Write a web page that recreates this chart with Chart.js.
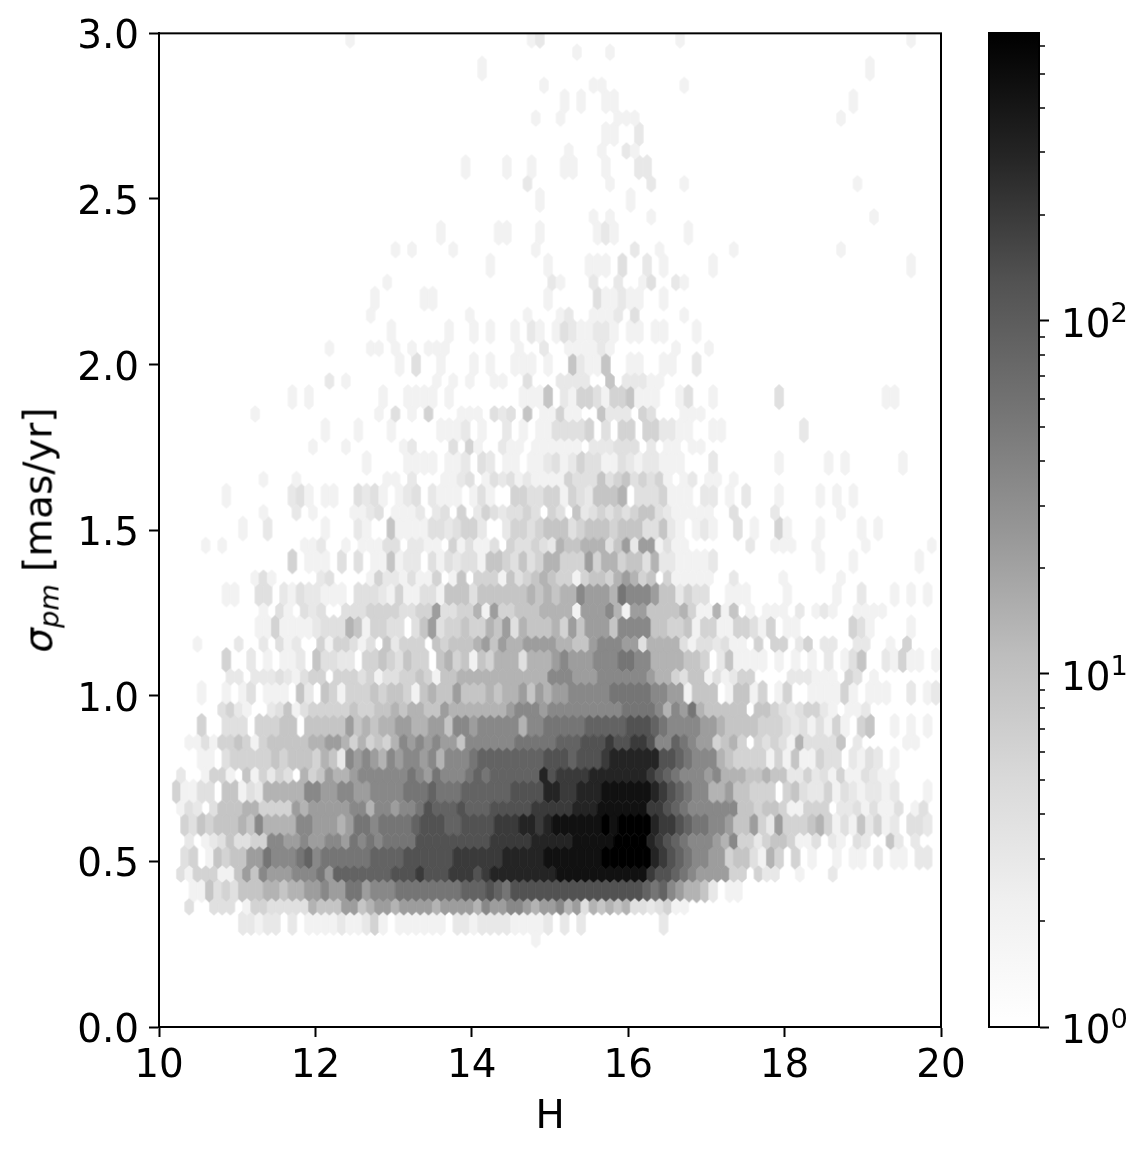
<!DOCTYPE html>
<html>
<head>
<meta charset="utf-8">
<title>H vs sigma_pm</title>
<style>
  html, body { margin: 0; padding: 0; background: #fff; }
  #wrap { position: relative; width: 1145px; height: 1155px; overflow: hidden; }
  canvas { position: absolute; top: 0; }
  #mainChart { left: 0; }
  #colorbar { left: 960px; }
  #yLabel {
    position: absolute; left: 38px; top: 530px; white-space: nowrap;
    font: 38.9px "DejaVu Sans"; color: #000;
    transform: translate(-50%, -50%) rotate(-90deg);
  }
  #yLabel sub { font-size: 0.7em; vertical-align: -0.25em; line-height: 0; }
  .cbarLabel {
    position: absolute; left: 1061px; white-space: nowrap; line-height: 1;
    font: 38.9px/1 "DejaVu Sans"; color: #000; transform: translateY(-50%);
  }
  .cbarLabel sup { font-size: 0.7em; vertical-align: 0.55em; line-height: 0; }
</style>
<script src="https://cdn.jsdelivr.net/npm/chart.js@4"></script>
</head>
<body>
<div id="wrap">
  <canvas id="mainChart" width="1145" height="1155"></canvas>
  <canvas id="colorbar" width="185" height="1155"></canvas>
  <div id="yLabel"><i>σ<sub>pm</sub></i> [mas/yr]</div>
</div>
<script>
// --- data ---
const xTicks = [10, 12, 14, 16, 18, 20];
const yTicks = [0, 0.5, 1, 1.5, 2, 2.5, 3];
const cbarTicks = [1, 10, 100];
const cbarExponents = [0, 1, 2];
const cbarMinorTicks = [2, 3, 4, 5, 6, 7, 8, 9, 20, 30, 40, 50, 60, 70, 80, 90, 200, 300, 400, 500, 600];
const cbarMax = 654;

// hex bin counts per shade step, one hex digit per cell ('.' = nothing visible)
const levelCounts = [1, 2, 3, 4, 6, 9, 14, 22, 35, 55, 85, 130, 200, 300, 450, 650];

// the grid has two interleaved lattices, column i sits at H0 + i * step
const columnStep = 0.1055;
const tallColumnH0 = 10.017;
const shortColumnH0 = 9.964;

const tallRowSigma = [0.314, 0.413, 0.512, 0.612, 0.711, 0.810, 0.909, 1.009, 1.108, 1.207, 1.306, 1.406, 1.505, 1.604, 1.703, 1.802, 1.902, 2.001, 2.100, 2.199, 2.299, 2.398, 2.497, 2.596, 2.696, 2.795, 2.894, 2.993];
const shortRowSigma = [0.264, 0.363, 0.462, 0.561, 0.660, 0.760, 0.859, 0.958, 1.057, 1.156, 1.256, 1.355, 1.454, 1.553, 1.653, 1.752, 1.851, 1.950, 2.049, 2.149, 2.248, 2.347, 2.446, 2.546, 2.645, 2.744, 2.843, 2.943];

const tallRowLevels = [
  ".......... 22122.2.11 11211241.1 11111.2212 22211112.2 .2........ .2",
  "....115343 5556656677 8779978889 9999999aaa ba9bbbbbbb bbbbbbbbba 9a876652.1 1",
  "...34.1545 57798889a8 999999aaaa bbbbbbcccc ccdddddeee eeeeffffff dcba988774 553164.4.1. .1.11.2.11 .22",
  "...4354555 6586666887 7767998999 9abbbaabbb bcccddcdee eeeefeffff dccba99887 55742744456 413152412. 332",
  "..41133.55 1326666688 7788778888 999a999aaa aaabbbbddc cdddeeeeee dcba988667 55444.45322 413212212. ..1",
  ".....11.34 4444545554 6528787687 887868889a aaaaaaabbb abbbcddddd dbba988865 44441415114 33.2132.1.",
  ".....4..33 3.44455.55 5557565667 7667758878 8888688999 99aaaaabbb a988887765 55544432313 141.45..1. 1.1",
  ".....1..1. 13.111.52. 5414445455 4156557555 6566757677 8888899999 88771555.1 5514.14..11 1141.111.. 2.12",
  "........4. .2.1.112.5 3322.44543 544.564515 4666366678 7778889988 6666554.25 1111.1.1.1. 2.135..214 11.1",
  ".......... ..11411112 3336514433 .357344544 6573655564 7577758888 5544514411 44314.11... ...431.... 1",
  "........11 ..33.21322 111.333214 1133155535 5555565656 6877769888 7552433..1 11....1... ..1..2...1 .1.1",
  ".......... ......4.11 1.3.3.1151 22.3132331 5543534664 4474664553 62211112.. .......... 1...1.......1",
  ".......... 1..2...... 1...21..51 1113323442 ..24434555 3455545553 3521.121.. 3.1..41... 1....1.1",
  "........1. ......231. 11..3231.1 23.2111.13 1..4433441 4325556.33 34111.22.1 .2...1.... 1.1.1",
  ".......... .......... .....1.... 1111.112.3 2.11.11231 2433113212 2111...2.. .....1.... .1.1......1",
  ".......... .......... 1...1...1. ....1112.1 ..2.1.1133 334.3.44.4 42211..11. ........2",
  ".......... ......1.1. .......1.. 1111.1.... ....1115.2 1443144511 1..13..1.. .....3.... ........11",
  ".......... .......... .........1 .3..1...1. 1..111.1.. 52115..11. .11..2",
  ".......... .......... ........1. .....1..1. 1..1.21.13 211221.11. 11...1",
  ".......... .......... ......1... ..11...... .......1.. ...311211. .1",
  ".......... .......... .......... .......... 1......1.. ..111.3..2 .1.....1.. .......... .......... .1",
  ".......... .......... .......... ....1..... .11...1... ...121.... ....1",
  ".......... .......... .......... .......... ......1... .......1..",
  ".......... .......... .......... .......1.. ..1..1...1 1...1...22",
  ".......... .......... .......... .......... .......... ....11..2.",
  ".......... .......... .......... .......... .........1 .1..11.... .......... .......... ....1",
  ".......... .......... .......... .........1 .......... .......... .......... .......... ......1",
  ".......... .......... ...1...... .......... .....12... .......... ...1...... .......... .......... .1"
];

const shortRowLevels = [
  ".......... .......... .......... .......... ......1...",
  "....3..333 .144333336 5557756776 7777677776 8778876778 6736565633 23411",
  "...3144411 5758777888 97aaaaaaab bbcbbbcccb cdddddddde eeeeeeeeee cbba987777 44.422..1. ..2",
  "....2.1235 3344887787 7887989899 99bbbbbbbb bcccccdddd deeeeeffff dcba988876 8442455411 3.21.32..5 2.2",
  "...132.355 5664444767 7777886887 889baaabaa abbbbbcccc cdddeeeeee ccba988888 8554554114 44.2231311 3.13",
  "...2..1441 .514243.64 5766788888 898798889a 9aaaaaadbc cccddddddd cba9888786 6655655224 2314113211",
  "....113144 5414555556 6776464546 8787877588 888899999a aabbbcbbcc b88a987745 64.4343163 3335.2.... .11",
  "........34 21..235134 4444544556 5665576666 6667888788 8888888999 9868796555 55.5543234 421.112",
  ".........2 2.22232134 4.44434133 4454155666 6666666688 8777888888 7664355131 244....222 111.43.1",
  ".....1.... 2..2.312.. 4144313.52 444.545556 7576677776 6557888773 6666313323 11.4.44.24 .22..22..1 .4",
  ".......... ...1.31.32 3..3334444 3344733446 1744555666 6177786177 5555641161 5.1.111.2. 121..1111",
  ".......... ..131..... 23....1422 13114.15.4 4415345654 4145546764 5.411111.. 2.....1... ...1",
  "......1.1. ........11 2..1.11133 .2211.4131 13.4334326 5566635727 71311..... ..2..111.. 1.....1.......1",
  ".......... ...1...2.1 ....1123.1 112.23.4.2 4323343.43 .523434345 53211111.. 3....2.... ...1",
  ".......... ...1...1.. ........11 .2...1123. 1323121111 4333534534 341.12.11. 1",
  ".......... .........1 ...1...... 12....3.41 ..211.1111 11.222333. 2.11.11",
  ".......... ..1....... .......1.3 .1.4...111 .323.5.114 11..5222.4 3...111",
  ".......... .......... .2.1...... ....1.1.1. .11..3...2 222..5.222 11",
  ".......... .......... .1....11.1 .1.111.... ....1..2.. 111121.... ...1...1",
  ".......... .......... ......1... ........1. .....1...1 2..1112.3. ....1",
  ".......... .......... ........1. .......... ........21 ...2..2..1 3..21",
  ".......... .......... .........1 .1....1... ......1... ........2. .1........ 1......... ...1",
  ".......... .......... .......... .......... .......... ...1.1.... 1......... .......... .......1",
  ".......... .......... .......... .......... .....2.... .....1.... 2...1..... .......... .....1",
  ".......... .......... .......... .......... .......... 1...1..21.",
  ".......... .......... .......... .......... ......1..1 ......111. .......... .......... ...1",
  ".......... .......... .......... .......... .......1.. ...11..... ....1",
  ".......... .......... .......... .......... .......... .1...1...."
];

// --- colours: matplotlib "Greys" on a log norm ---
const greysStops = [[0, 255], [0.125, 240], [0.25, 217], [0.375, 189], [0.5, 150], [0.625, 115], [0.75, 82], [0.875, 37], [1, 0]];

function greyFor(t) {
  for (let i = 1; i < greysStops.length; i++) {
    if (t <= greysStops[i][0]) {
      const a = greysStops[i - 1], b = greysStops[i];
      return Math.round(a[1] + (b[1] - a[1]) * (t - a[0]) / (b[0] - a[0]));
    }
  }
  return 0;
}

function colorForCount(count) {
  const g = greyFor(Math.log10(count) / Math.log10(cbarMax));
  return `rgb(${g},${g},${g})`;
}

// --- hexagon stamps used as point styles ---
const HEX_HALF_W = 4.7;
const HEX_TIP = 4.3;
const HEX_FLAT_TALL = 8.6;
const HEX_FLAT_SHORT = 4.4;
const stampCache = {};

function hexStamp(color, halfFlat) {
  const key = color + halfFlat;
  if (stampCache[key]) return stampCache[key];
  const c = document.createElement('canvas');
  c.width = 14;
  c.height = 30;
  const g = c.getContext('2d');
  g.translate(7, 15);
  g.fillStyle = color;
  g.beginPath();
  g.moveTo(0, -halfFlat - HEX_TIP);
  g.lineTo(HEX_HALF_W, -halfFlat);
  g.lineTo(HEX_HALF_W, halfFlat);
  g.lineTo(0, halfFlat + HEX_TIP);
  g.lineTo(-HEX_HALF_W, halfFlat);
  g.lineTo(-HEX_HALF_W, -halfFlat);
  g.closePath();
  g.fill();
  stampCache[key] = c;
  return c;
}

function buildPoints(rows, sigmas, h0) {
  const pts = [];
  rows.forEach((row, r) => {
    const cells = row.replace(/ /g, '');
    for (let i = 0; i < cells.length; i++) {
      if (cells[i] === '.') continue;
      pts.push({ x: h0 + i * columnStep, y: sigmas[r], count: levelCounts[parseInt(cells[i], 16)] });
    }
  });
  return pts;
}

const FONT = { family: '"DejaVu Sans"', size: 38.9 };

// top and right spines
const framePlugin = {
  id: 'frame',
  afterDraw(chart) {
    const a = chart.chartArea, ctx = chart.ctx;
    ctx.save();
    ctx.strokeStyle = '#000';
    ctx.lineWidth = 2;
    ctx.strokeRect(a.left, a.top, a.right - a.left, a.bottom - a.top);
    ctx.restore();
  }
};

const hexDataset = (points, halfFlat) => ({
  data: points,
  showLine: false,
  clip: 0,
  pointRadius: 8,
  pointStyle: ctx => hexStamp(colorForCount(ctx.raw.count), halfFlat)
});

new Chart(document.getElementById('mainChart'), {
  type: 'scatter',
  data: {
    datasets: [
      hexDataset(buildPoints(shortRowLevels, shortRowSigma, shortColumnH0), HEX_FLAT_SHORT),
      hexDataset(buildPoints(tallRowLevels, tallRowSigma, tallColumnH0), HEX_FLAT_TALL)
    ]
  },
  options: {
    responsive: false,
    animation: false,
    events: [],
    layout: { padding: { top: 33, right: 204, left: 0, bottom: 0 } },
    plugins: { legend: { display: false }, tooltip: { enabled: false } },
    scales: {
      x: {
        type: 'linear', min: 10, max: 20,
        afterBuildTicks: s => { s.ticks = xTicks.map(value => ({ value })); },
        afterFit: s => { s.height = 128; },
        grid: { drawOnChartArea: false, tickLength: 10, tickWidth: 2, tickColor: '#000' },
        border: { color: '#000', width: 2 },
        ticks: { color: '#000', font: FONT, padding: 7, maxRotation: 0, autoSkip: false },
        title: { display: true, text: 'H', color: '#000', font: FONT, padding: { top: 0, bottom: 14 } }
      },
      y: {
        type: 'linear', min: 0, max: 3,
        afterBuildTicks: s => { s.ticks = yTicks.map(value => ({ value })); },
        afterFit: s => { s.width = 159; },
        grid: { drawOnChartArea: false, tickLength: 10, tickWidth: 2, tickColor: '#000' },
        border: { color: '#000', width: 2 },
        ticks: { color: '#000', font: FONT, padding: 10, labelOffset: 5, autoSkip: false, callback: v => v.toFixed(1) }
      }
    }
  },
  plugins: [framePlugin]
});

// --- colorbar ---
const cbarMinorPlugin = {
  id: 'cbarMinor',
  afterDraw(chart) {
    const a = chart.chartArea, ctx = chart.ctx, y = chart.scales.y;
    ctx.save();
    ctx.strokeStyle = '#000';
    ctx.lineWidth = 1.5;
    cbarMinorTicks.forEach(v => {
      const py = Math.round(y.getPixelForValue(v));
      ctx.beginPath();
      ctx.moveTo(a.right, py);
      ctx.lineTo(a.right + 6, py);
      ctx.stroke();
    });
    ctx.restore();
  }
};

function cbarGradient(ctx) {
  const a = ctx.chart.chartArea;
  if (!a) return '#888';
  const grad = ctx.chart.ctx.createLinearGradient(0, a.bottom, 0, a.top);
  greysStops.forEach(s => grad.addColorStop(s[0], `rgb(${s[1]},${s[1]},${s[1]})`));
  return grad;
}

const cbarChart = new Chart(document.getElementById('colorbar'), {
  type: 'bar',
  data: {
    labels: ['count'],
    datasets: [{
      data: [[1, cbarMax]],
      backgroundColor: cbarGradient,
      borderWidth: 0,
      barPercentage: 1,
      categoryPercentage: 1
    }]
  },
  options: {
    responsive: false,
    animation: false,
    events: [],
    layout: { padding: { top: 33, bottom: 128, left: 29, right: 0 } },
    plugins: { legend: { display: false }, tooltip: { enabled: false } },
    scales: {
      x: { display: false },
      y: {
        type: 'logarithmic', position: 'right', min: 1, max: cbarMax,
        afterBuildTicks: s => { s.ticks = cbarTicks.map(value => ({ value })); },
        afterFit: s => { s.width = 106; },
        grid: { drawOnChartArea: false, tickLength: 10, tickWidth: 2, tickColor: '#000' },
        border: { color: '#000', width: 2 },
        ticks: { display: false }
      }
    }
  },
  plugins: [framePlugin, cbarMinorPlugin]
});

// colorbar labels need a real superscript, place them from the chart's own scale
cbarTicks.forEach((v, i) => {
  const el = document.createElement('div');
  el.className = 'cbarLabel';
  el.style.top = (cbarChart.scales.y.getPixelForValue(v) + 3) + 'px';
  el.innerHTML = `10<sup>${cbarExponents[i]}</sup>`;
  document.getElementById('wrap').appendChild(el);
});
</script>
</body>
</html>
